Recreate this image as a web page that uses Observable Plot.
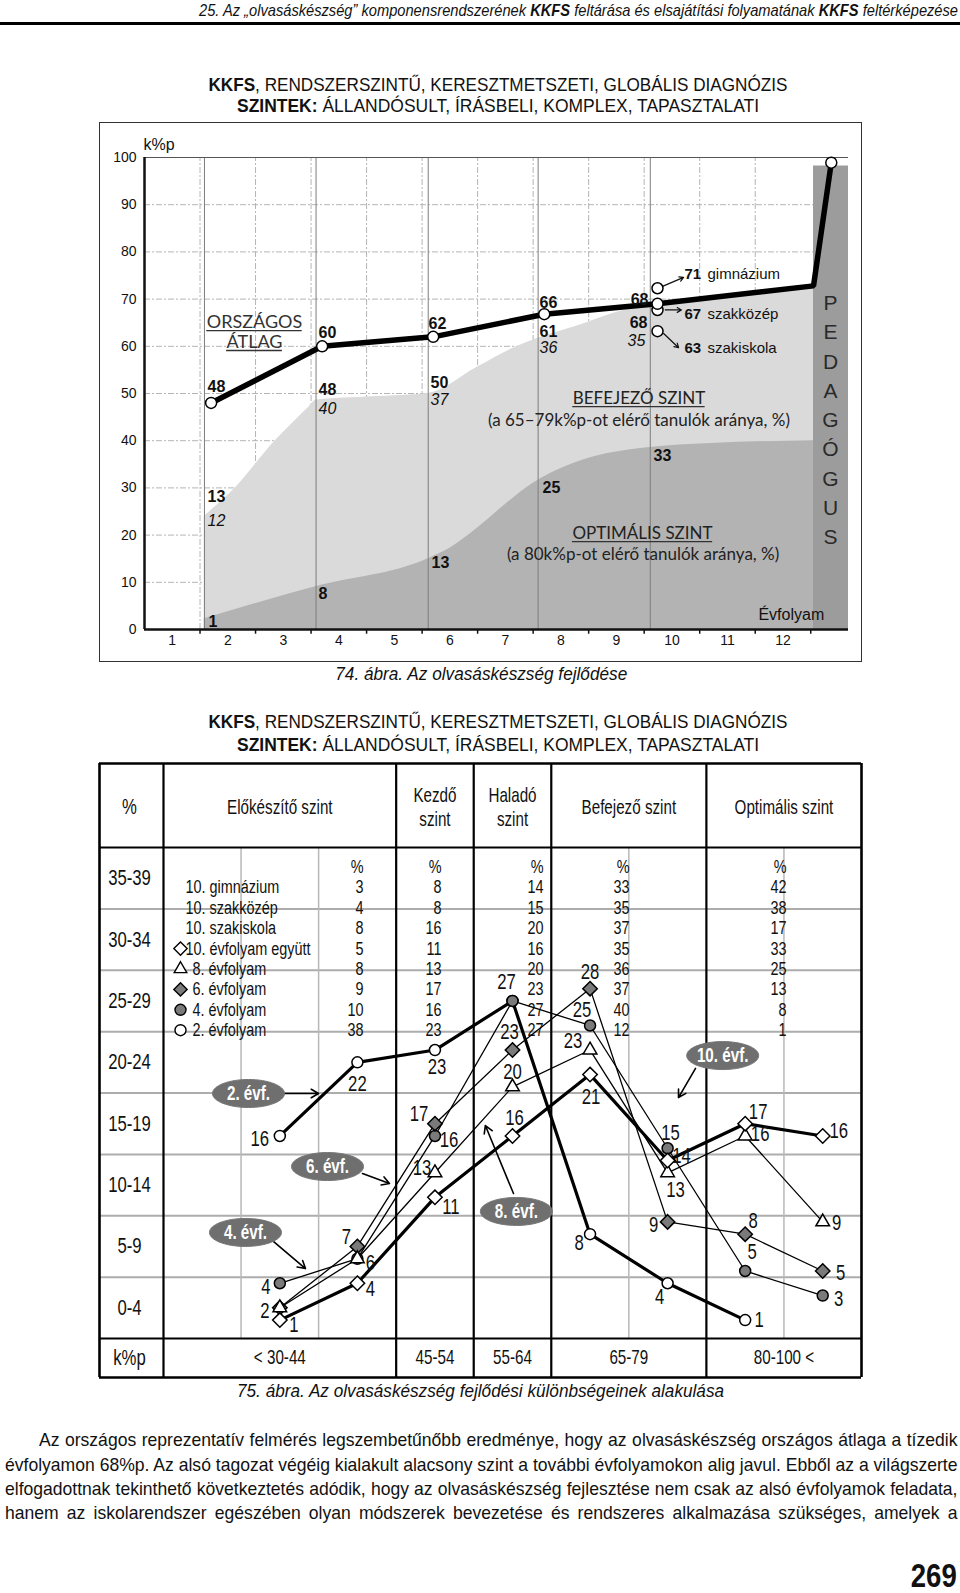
<!DOCTYPE html>
<html><head><meta charset="utf-8">
<script src="https://cdn.jsdelivr.net/npm/d3@7"></script>
<script src="https://cdn.jsdelivr.net/npm/@observablehq/plot@0.6"></script>
<style>
body{margin:0;background:#fff;}
#page{position:relative;width:960px;height:1593px;overflow:hidden;background:#fff;color:#111;
  font-family:"Liberation Sans",Arial,sans-serif;}
.abs{position:absolute;white-space:nowrap;}
.fit{position:absolute;white-space:nowrap;display:inline-block;transform-origin:center center;}
.title{font-size:19px;line-height:22px;}
.cap{font-size:19px;line-height:22px;font-style:italic;}
.para{position:absolute;font-size:18.5px;line-height:24px;text-align:justify;text-align-last:justify;transform-origin:left center;}
svg{overflow:visible;}
</style></head>
<body><div id="page">
<div class="fit" data-right="958" data-w="759" style="top:1px;font-size:17px;line-height:20px;font-style:italic;">25. Az „olvasáskészség” komponensrendszerének <b>KKFS</b> feltárása és elsajátítási folyamatának <b>KKFS</b> feltérképezése</div>
<div class="abs" style="left:0;top:22px;width:960px;height:2.5px;background:#000;"></div>
<div class="fit title" data-cx="497.5" data-w="579" style="top:74px;"><b>KKFS</b>, RENDSZERSZINTŰ, KERESZTMETSZETI, GLOBÁLIS DIAGNÓZIS</div>
<div class="fit title" data-cx="498" data-w="522" style="top:95px;"><b>SZINTEK:</b> ÁLLANDÓSULT, ÍRÁSBELI, KOMPLEX, TAPASZTALATI</div>
<div class="abs" style="left:99px;top:122px;width:761px;height:538px;border:1px solid #333;"></div>
<div id="c1" class="abs" style="left:0;top:120px;"></div>
<div class="fit cap" data-cx="481" data-w="292" style="top:663px;">74. ábra. Az olvasáskészség fejlődése</div>
<div class="fit title" data-cx="497.5" data-w="579" style="top:711px;"><b>KKFS</b>, RENDSZERSZINTŰ, KERESZTMETSZETI, GLOBÁLIS DIAGNÓZIS</div>
<div class="fit title" data-cx="498" data-w="522" style="top:734px;"><b>SZINTEK:</b> ÁLLANDÓSULT, ÍRÁSBELI, KOMPLEX, TAPASZTALATI</div>
<div id="c2" class="abs" style="left:0;top:760px;"></div>
<div class="fit cap" data-cx="480.5" data-w="487" style="top:1380px;">75. ábra. Az olvasáskészség fejlődési különbségeinek alakulása</div>
<div class="para" style="left:39px;top:1428px;" data-w="918">Az országos reprezentatív felmérés legszembetűnőbb eredménye, hogy az olvasáskészség országos átlaga a tízedik</div>
<div class="para" style="left:5px;top:1453px;" data-w="952">évfolyamon 68%p. Az alsó tagozat végéig kialakult alacsony szint a további évfolyamokon alig javul. Ebből az a világszerte</div>
<div class="para" style="left:5px;top:1477px;" data-w="952">elfogadottnak tekinthető következtetés adódik, hogy az olvasáskészség fejlesztése nem csak az alsó évfolyamok feladata,</div>
<div class="para" style="left:5px;top:1501px;" data-w="952">hanem az iskolarendszer egészében olyan módszerek bevezetése és rendszeres alkalmazása szükséges, amelyek a</div>
<div class="fit" data-right="957" data-w="46" style="top:1561px;font-size:34px;line-height:28px;font-weight:bold;">269</div>
</div>
<script>
const ARIAL = '"Liberation Sans",Arial,sans-serif';
const HUM = 'Lato,"Open Sans",sans-serif';

// ================= CHART 1 DATA =================
const gradeTicks = [1,2,3,4,5,6,7,8,9,10,11,12];
const kppTicks = [0,10,20,30,40,50,60,70,80,90,100];
const surveyGrades = [1.7, 3.7, 5.7, 7.7, 9.74];
const avgPlotted = [48, 60, 62, 66.8, 69];
const avgLabels = ["48","60","62","66","68"];
const befejezoLabels = ["13","48","50","61","68"];
const italicLabels = ["12","40","37","36","35"];
const optimalLabels = ["1","8","13","25","33"];
const teacherGrades = [12.55, 12.87];
const teacherValues = [72.8, 98.9];
const schoolTypes = ["gimnázium","szakközép","szakiskola"];
const schoolLabels = ["71","67","63"];
const schoolPlotted = [72.3, 67.7, 63.2];
const guideGrades = [1.58, 3.59, 5.61, 7.59, 9.61];
const befejezoEdgeG = [1.577,2.135,2.856,3.216,3.45,3.6,4.6,5.61,6.5,7.14,7.59,8.35,8.95,9.56,9.74,12.55];
const befejezoEdgeV = [24,30,40,44.3,47,48.6,49.3,50,55.6,59.6,61.7,64.5,67,68.7,69,72.8];
const optimalisEdgeG = [1.577,3.594,5.61,6.0,6.5,7.0,7.5,8.1,8.6,9.56,10.7,12.55];
const optimalisEdgeV = [2.3,9.1,15,17.2,21.5,26.5,31,34.6,36.6,38.5,39.4,40];
const pedagogusBand = [{x1:12.55, x2:13.18, top:98.2}];
const pedagogusLetters = ["P","E","D","A","G","Ó","G","U","S"];
const areaTitles = ["ORSZÁGOS","ÁTLAG","BEFEJEZŐ SZINT","OPTIMÁLIS SZINT"];
const areaNotes = ["(a 65–79k%p-ot elérő tanulók aránya, %)","(a 80k%p-ot elérő tanulók aránya, %)"];

// ----- chart 1 layout (annotation anchors in data units) -----
const L1 = {
  avg: [[1.635,51.3,"start"],[3.634,62.9,"start"],[5.615,64.8,"start"],[7.615,69.3,"start"],[9.578,69.9,"end"]],
  bef: [[1.635,28.0,"start"],[3.634,50.8,"start"],[5.651,52.3,"start"],[7.615,63.1,"start"],[9.56,65.0,"end"]],
  ita: [[1.635,23.1,"start"],[3.634,46.8,"start"],[5.651,48.7,"start"],[7.615,59.7,"start"],[9.52,61.2,"end"]],
  opt: [[1.653,1.7,"start"],[3.634,7.6,"start"],[5.669,14.2,"start"],[7.669,30.1,"start"],[9.668,36.7,"start"]],
  schoolNumX: 10.226, schoolNameX: 10.64, schoolY: [75.2, 66.7, 59.5],
  arrows: [[9.83,72.7,10.21,74.6],[9.88,67.7,10.17,67.7],[9.85,62.7,10.12,59.7]],
  letterX: 12.856,
  titles: [[2.481,65.1,18],[2.481,60.9,18],[9.406,48.9,17],[9.47,20.3,17]],
  notes: [[9.406,44.3],[9.48,15.9]]
};
const c1 = {w:960, h:560, mt:37, mb:51, ml:144, mr:112};
const py1 = (629-157)/100, px1 = (960-144-112)/(13.18-0.5);
const pageY1 = y => (629 - y)/py1;

const mctx = document.createElement("canvas").getContext("2d");
const textW = (s, size, fam) => { mctx.font = `${size}px ${fam}`; return mctx.measureText(s).width; };
const titleMarks = areaTitles.map((t,i)=>({t, x:L1.titles[i][0], y:L1.titles[i][1], s:L1.titles[i][2]}));
const underlines = titleMarks.map(d=>{ const hw = textW(d.t, d.s, HUM)/2/px1; return {x1:d.x-hw, x2:d.x+hw, y:d.y - 0.47*d.s/py1}; });

const zip = (a,b) => a.map((d,i)=>({g:d, v:b[i]}));
const avgPts = zip(surveyGrades, avgPlotted);
const linePts = avgPts.concat(zip(teacherGrades, teacherValues));
const circlePts = avgPts.concat([{g:teacherGrades[1], v:teacherValues[1]}]);
const schoolPts = schoolPlotted.map(v=>({g:surveyGrades[4], v}));
function lab(arr, texts){ return arr.map((p,i)=>({g:p[0], v:p[1], a:p[2], t:texts[i]})); }
const isStart = d=>d.a==="start";

const chart1 = Plot.plot({
  width:c1.w, height:c1.h, marginTop:c1.mt, marginBottom:c1.mb, marginLeft:c1.ml, marginRight:c1.mr,
  x:{domain:[0.5,13.18], label:null}, y:{domain:[0,100], label:null},
  style:{fontFamily:ARIAL, fontSize:"14px", color:"#111", background:"transparent"},
  marks:[
    Plot.ruleY(d3.range(10,100,10), {x1:0.5, x2:13.18, stroke:"#b5b5b5", strokeDasharray:"6,2,2,2"}),
    Plot.ruleX(d3.range(1.5,12,1), {y1:0, y2:100, stroke:"#b5b5b5", strokeDasharray:"6,2,2,2"}),
    Plot.areaY(zip(befejezoEdgeG, befejezoEdgeV), {x:"g", y:"v", fill:"#dadada", curve:"monotone-x"}),
    Plot.areaY(zip(optimalisEdgeG, optimalisEdgeV), {x:"g", y:"v", fill:"#b3b3b3", curve:"monotone-x"}),
    Plot.rectY(pedagogusBand, {x1:"x1", x2:"x2", y1:0, y2:"top", fill:"#9c9c9c"}),
    Plot.ruleX(guideGrades, {y1:0, y2:100, stroke:"#7d7d7d", strokeWidth:1}),
    Plot.ruleY([100], {x1:0.5, x2:13.18, stroke:"#555", strokeWidth:1}),
    Plot.ruleX([0.5], {y1:0, y2:100, stroke:"#111", strokeWidth:2.5}),
    Plot.ruleY([0], {x1:0.5, x2:13.18, stroke:"#111", strokeWidth:2.5}),
    Plot.ruleX(d3.range(1.5,12.6,1), {y1:0, y2:-1, stroke:"#111", strokeWidth:1.5}),
    Plot.axisY(kppTicks, {tickSize:0, tickPadding:8, fontSize:14, label:null}),
    Plot.axisX(gradeTicks, {tickSize:0, tickPadding:6, fontSize:14, label:null}),
    Plot.text(["k%p"], {x:0.482, y:pageY1(144), textAnchor:"start", fontSize:16}),
    Plot.text(["Évfolyam"], {x:12.15, y:3.2, fontSize:16}),
    Plot.text(pedagogusLetters, {x:L1.letterX, y:(d,i)=>pageY1(303+29.25*i), fontSize:21, fill:"#2a2a2a"}),
    Plot.line(linePts, {x:"g", y:"v", stroke:"#000", strokeWidth:5.5, strokeLinejoin:"miter"}),
    Plot.arrow(L1.arrows, {x1:d=>d[0], y1:d=>d[1], x2:d=>d[2], y2:d=>d[3], stroke:"#111", strokeWidth:1.2, headLength:6}),
    Plot.dot(schoolPts, {x:"g", y:"v", r:5.5, fill:"white", stroke:"#000", strokeWidth:1.5}),
    Plot.dot(circlePts, {x:"g", y:"v", r:5.5, fill:"white", stroke:"#000", strokeWidth:1.5}),
    Plot.text(lab(L1.avg, avgLabels), {x:"g", y:"v", text:"t", fontWeight:"bold", fontSize:16, textAnchor:"start", filter:isStart}),
    Plot.text(lab(L1.avg, avgLabels), {x:"g", y:"v", text:"t", fontWeight:"bold", fontSize:16, textAnchor:"end", filter:d=>!isStart(d)}),
    Plot.text(lab(L1.bef, befejezoLabels), {x:"g", y:"v", text:"t", fontWeight:"bold", fontSize:16, textAnchor:"start", filter:isStart}),
    Plot.text(lab(L1.bef, befejezoLabels), {x:"g", y:"v", text:"t", fontWeight:"bold", fontSize:16, textAnchor:"end", filter:d=>!isStart(d)}),
    Plot.text(lab(L1.ita, italicLabels), {x:"g", y:"v", text:"t", fontStyle:"italic", fontSize:16, textAnchor:"start", filter:isStart}),
    Plot.text(lab(L1.ita, italicLabels), {x:"g", y:"v", text:"t", fontStyle:"italic", fontSize:16, textAnchor:"end", filter:d=>!isStart(d)}),
    Plot.text(lab(L1.opt, optimalLabels), {x:"g", y:"v", text:"t", fontWeight:"bold", fontSize:16, textAnchor:"start"}),
    Plot.text(schoolLabels, {x:L1.schoolNumX, y:(d,i)=>L1.schoolY[i], textAnchor:"start", fontWeight:"bold", fontSize:15}),
    Plot.text(schoolTypes, {x:L1.schoolNameX, y:(d,i)=>L1.schoolY[i], textAnchor:"start", fontSize:15}),
    Plot.text(titleMarks.slice(0,2), {x:"x", y:"y", text:"t", fontFamily:HUM, fontSize:18, fill:"#333"}),
    Plot.text(titleMarks.slice(2), {x:"x", y:"y", text:"t", fontFamily:HUM, fontSize:17, fill:"#222"}),
    Plot.ruleY(underlines, {x1:"x1", x2:"x2", y:"y", stroke:"#333", strokeWidth:1.3}),
    Plot.text(areaNotes, {x:(d,i)=>L1.notes[i][0], y:(d,i)=>L1.notes[i][1], fontFamily:HUM, fontSize:17, fill:"#222"})
  ]
});
document.getElementById("c1").appendChild(chart1);

// ================= CHART 2 DATA =================
const rowLabels = ["0-4","5-9","10-14","15-19","20-24","25-29","30-34","35-39"];
const levelNames = ["Előkészítő szint","Kezdő\nszint","Haladó\nszint","Befejező szint","Optimális szint"];
const kppBands = ["< 30-44","45-54","55-64","65-79","80-100 <"];
const groupNames = ["10. gimnázium","10. szakközép","10. szakiskola","10. évfolyam együtt","8. évfolyam","6. évfolyam","4. évfolyam","2. évfolyam"];
const pctElokeszito = [3,4,8,5,8,9,10,38];
const pctKezdo      = [8,8,16,11,13,17,16,23];
const pctHalado     = [14,15,20,16,20,23,27,27];
const pctBefejezo   = [33,35,37,35,36,37,40,12];
const pctOptimalis  = [42,38,17,33,25,13,8,1];
const seriesNames = ["2. évf.","4. évf.","6. évf.","8. évf.","10. évf."];
const ev2  = [16,22,23,27,8,4,1];
const ev4  = [4,6,16,27,25,15,5,3];
const ev6  = [2,7,17,23,28,9,8,5];
const ev8  = [2,6,13,20,23,13,16,9];
const ev10 = [1,4,11,16,21,14,17,16];

// ----- chart 2 layout -----
const c2 = {w:960, h:625, mt:87, mb:47, ml:163, mr:99};
const K2 = 0.76;
const pxX = (c2.w-c2.ml-c2.mr)/9, pxY = (c2.h-c2.mt-c2.mb)/40;
const X = {left:-0.5-64/pxX, right:8.5}, Y = {top:39.5+84/pxY, head:39.5, foot:-0.5, bot:-0.5-39/pxY};
const bandTicks = [2,7,12,17,22,27,32,37];
const levelTicks = [1,3,4,5.5,7.5];
const colBorders = [-0.5,2.5,3.5,4.5,6.5];
const gridCols = [0.5,1.5,5.5,7.5];
const rowLines = [4.5,9.5,14.5,19.5,24.5,29.5,34.5];
const legendRowY = r => 39.5 - (19.5 + 20.4*r)/pxY;
const numColX = [2.08, 3.085, 4.40, 5.51, 7.533];
const seriesStyle = [
  {data:ev2,  symbol:"circle",    fill:"white", w:3.2},
  {data:ev4,  symbol:"circle",    fill:"#7a7a7a", w:1.3},
  {data:ev6,  symbol:"diamond2",  fill:"#7a7a7a", w:1.3},
  {data:ev8,  symbol:"triangle2", fill:"white", w:1.3},
  {data:ev10, symbol:"diamond2",  fill:"white", w:3.2}
];
const labelOffsets = [
  [[-20,3],[0,22],[2,17],[-6,-19],[-11,9],[-8,14],[14,0]],
  [[-14,4],null,[14,4],null,[-8,-16],[3,-15],[7,-19],[16,3]],
  [[-15,3],[-11,-9],[-16,-10],[-3,-18],[0,-17],[-14,3],[8,-13],[18,2]],
  [null,[13,4],[-13,-5],[0,-15],[-17,-9],[8,17],[15,-2],[14,1]],
  [[14,5],[13,6],[16,10],[2,-18],[1,22],[14,-5],[13,-12],[16,-5]]
];
const calloutOrder = [0,2,1,3,4];
const callouts = [[0.596,19.46],[1.615,13.51],[0.557,8.14],[4.05,9.85],[6.71,22.55]];
const calloutArrows = [[1.06,19.46,1.5,19.46],[2.066,12.94,2.414,12.13],[0.905,7.48,1.331,5.2],[4.013,11.31,3.65,16.85],[6.36,21.5,6.14,19.13]];

function ellipse(rx, ry){ const k=0.5523; return {draw(c){ c.moveTo(rx,0); c.bezierCurveTo(rx,ry*k,rx*k,ry,0,ry); c.bezierCurveTo(-rx*k,ry,-rx,ry*k,-rx,0); c.bezierCurveTo(-rx,-ry*k,-rx*k,-ry,0,-ry); c.bezierCurveTo(rx*k,-ry,rx,-ry*k,rx,0); c.closePath(); }}; }

const pts = seriesStyle.map((s,k)=>s.data.map((v,i)=>({x:i+1, v, k})));
const labels = [];
pts.forEach((arr,k)=>arr.forEach((p,i)=>{ const o = labelOffsets[k][i]; if(o) labels.push({x:p.x+o[0]/pxX, y:p.v-o[1]/pxY, t:String(p.v)}); }));

const legendRows = groupNames.map((n,i)=>({n, r:i+1, ten:n.startsWith("10.")}));
const legendSymbols = [{r:4,k:4},{r:5,k:3},{r:6,k:2},{r:7,k:1},{r:8,k:0}];
const pctCols = [pctElokeszito,pctKezdo,pctHalado,pctBefejezo,pctOptimalis];
const pctCells = [];
pctCols.forEach((col,c)=>{ pctCells.push({x:numColX[c], r:0, t:"%"}); col.forEach((v,i)=>pctCells.push({x:numColX[c], r:i+1, t:String(v)})); });

const mapOf = (keys, vals) => new Map(keys.map((k,i)=>[k, vals[i]]));
const rowMap = mapOf(bandTicks, rowLabels), headMap = mapOf(levelTicks, levelNames), footMap = mapOf(levelTicks, kppBands);

const marks2 = [
  Plot.ruleY(rowLines, {x1:X.left, x2:X.right, stroke:"#adadad", strokeWidth:2}),
  Plot.ruleX(gridCols, {y1:Y.foot, y2:Y.head, stroke:"#b8b8b8", strokeWidth:1.5}),
  Plot.ruleX(colBorders, {y1:Y.bot, y2:Y.top, stroke:"#000", strokeWidth:2.2}),
  Plot.ruleY([Y.head, Y.foot], {x1:X.left, x2:X.right, stroke:"#000", strokeWidth:2.2}),
  Plot.ruleY([Y.top, Y.bot], {x1:X.left, x2:X.right, stroke:"#000", strokeWidth:2.6}),
  Plot.ruleX([X.left, X.right], {y1:Y.bot, y2:Y.top, stroke:"#000", strokeWidth:2.6}),
  Plot.axisY(bandTicks, {tickFormat:d=>rowMap.get(d), tickSize:0, tickPadding:34, textAnchor:"middle", fontSize:22, label:null}),
  Plot.axisX(levelTicks, {anchor:"top", tickFormat:d=>headMap.get(d), tickSize:0, tickPadding:41, lineAnchor:"middle", fontSize:20, lineHeight:1.2, label:null}),
  Plot.axisX(levelTicks, {anchor:"bottom", tickFormat:d=>footMap.get(d), tickSize:0, tickPadding:19, lineAnchor:"middle", fontSize:20, label:null}),
  Plot.text(["%","k%p"], {x:-0.5-34/pxX, y:(d,i)=>[39.5+41/pxY, -0.5-19/pxY][i], fontSize:22}),
  Plot.text(legendRows, {x:d=>d.ten? -0.5+22/pxX : -0.5+29/pxX, y:d=>legendRowY(d.r), text:"n", textAnchor:"start", fontSize:19}),
  Plot.text(pctCells, {x:"x", y:d=>legendRowY(d.r), text:"t", textAnchor:"end", fontSize:19}),
  ...legendSymbols.map(s=>Plot.dot([s], {x:-0.5+17/pxX, y:d=>legendRowY(d.r), symbol:seriesStyle[s.k].symbol, fill:seriesStyle[s.k].fill, stroke:"#000", strokeWidth:1.4, r:seriesStyle[s.k].symbol==="circle"?5.5:6})),
  ...seriesStyle.map((s,k)=>Plot.line(pts[k], {x:"x", y:"v", stroke:"#000", strokeWidth:s.w})),
  ...seriesStyle.map((s,k)=>Plot.dot(pts[k], {x:"x", y:"v", symbol:s.symbol, fill:s.fill, stroke:"#000", strokeWidth:1.5, r:s.symbol==="circle"?5.5:6.5})),
  Plot.text(labels, {x:"x", y:"y", text:"t", fontSize:22}),
  Plot.arrow(calloutArrows, {x1:d=>d[0], y1:d=>d[1], x2:d=>d[2], y2:d=>d[3], stroke:"#000", strokeWidth:1.6, headLength:8}),
  Plot.dot(callouts, {x:d=>d[0], y:d=>d[1], symbol:ellipse(36,14), fill:"#6f6f6f", stroke:"#777", strokeWidth:1}),
  Plot.text(callouts, {x:d=>d[0], y:d=>d[1], text:(d,i)=>seriesNames[calloutOrder[i]], fill:"white", fontWeight:"bold", fontSize:20})
];

const chart2 = Plot.plot({
  width:c2.w, height:c2.h, marginTop:c2.mt, marginBottom:c2.mb, marginLeft:c2.ml, marginRight:c2.mr,
  x:{domain:[-0.5,8.5], label:null}, y:{domain:[-0.5,39.5], label:null},
  style:{fontFamily:ARIAL, fontSize:"18px", color:"#111", background:"transparent"},
  marks: marks2
});
document.getElementById("c2").appendChild(chart2);
chart2.querySelectorAll("text").forEach(t=>{ t.setAttribute("transform", (t.getAttribute("transform")||"")+` scale(${K2},1)`); });

// fit narrow-looking HTML text blocks
document.querySelectorAll(".fit").forEach(el=>{
  const w = el.getBoundingClientRect().width;
  if (el.dataset.right) { el.style.left = (+el.dataset.right - w) + "px"; el.style.transformOrigin = "right center"; }
  else el.style.left = (+el.dataset.cx - w/2) + "px";
  el.style.transform = `scaleX(${(+el.dataset.w)/w})`;
});
const paras = [...document.querySelectorAll(".para")];
paras.forEach(el=>{ el.style.whiteSpace="nowrap"; el.style.display="inline-block"; });
const kp = Math.min(...paras.slice(0,3).map(el=> +el.dataset.w / el.getBoundingClientRect().width));
paras.forEach(el=>{
  el.style.display="block"; el.style.whiteSpace="normal";
  el.style.width = (+el.dataset.w/kp + 0.5) + "px";
  el.style.transform = `scaleX(${kp})`;
});
</script>
</body></html>
